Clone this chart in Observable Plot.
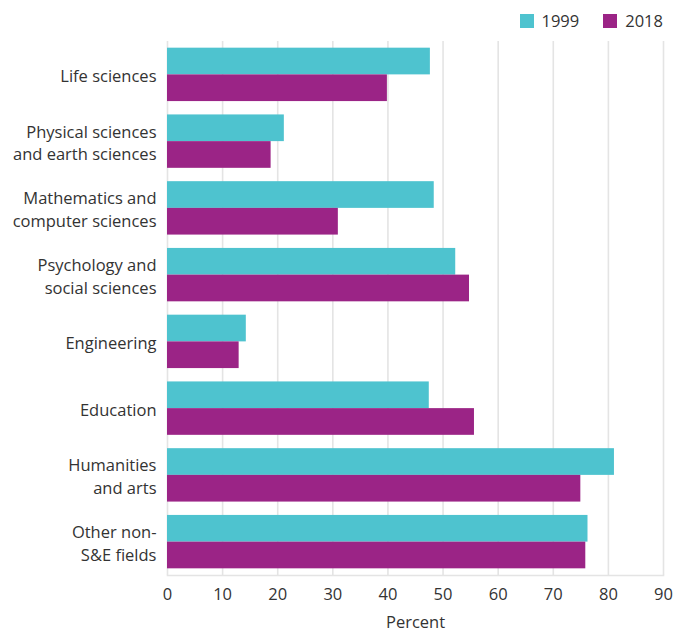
<!DOCTYPE html>
<html>
<head>
<meta charset="utf-8">
<script src="https://cdn.jsdelivr.net/npm/d3@7"></script>
<script src="https://cdn.jsdelivr.net/npm/@observablehq/plot@0.6"></script>
<style>
  html, body { margin: 0; padding: 0; background: #fff; }
  body { width: 676px; height: 634px; overflow: hidden; font-family: "Open Sans", "Noto Sans", sans-serif; color: #333; }
  #legend { height: 41px; display: flex; justify-content: flex-end; align-items: flex-start; padding-right: 13px; box-sizing: border-box; }
  .item { display: flex; align-items: center; margin-left: 24px; margin-top: 12px; font-size: 16.5px; line-height: 18px; }
  .sw { width: 14px; height: 14px; margin-right: 8px; }
  #chart { height: 593px; line-height: 0; }
</style>
</head>
<body>
<div id="legend"></div>
<div id="chart"></div>
<script>
const categories = [
  "Life sciences",
  "Physical sciences\nand earth sciences",
  "Mathematics and\ncomputer sciences",
  "Psychology and\nsocial sciences",
  "Engineering",
  "Education",
  "Humanities\nand arts",
  "Other non-\nS&E fields"
];
const years = ["1999", "2018"];
const values1999 = [47.7, 21.2, 48.4, 52.3, 14.3, 47.5, 81.1, 76.3];
const values2018 = [39.9, 18.8, 31.0, 54.8, 13.0, 55.7, 75.0, 75.9];
const colors = ["#4ec3cf", "#9b2486"];
const xTicks = [0, 10, 20, 30, 40, 50, 60, 70, 80, 90];

const data1999 = categories.map((c, i) => ({category: c, year: years[0], value: values1999[i]}));
const data2018 = categories.map((c, i) => ({category: c, year: years[1], value: values2018[i]}));

// legend
const legend = document.getElementById("legend");
years.forEach((y, i) => {
  const it = document.createElement("div");
  it.className = "item";
  it.innerHTML = `<span class="sw" style="background:${colors[i]}"></span><span>${y}</span>`;
  legend.appendChild(it);
});

const height = 593, marginTop = 0, marginBottom = 59;
const n = categories.length, pI = 0.2, pO = 0.1;
const step = (height - marginTop - marginBottom) / (n - pI + 2 * pO);
const half = step * (1 - pI) / 2;

const chart = Plot.plot({
  width: 676,
  height,
  marginLeft: 167,
  marginRight: 13,
  marginTop,
  marginBottom,
  style: {fontFamily: "'Open Sans', 'Noto Sans', sans-serif", fontSize: "16px", color: "#333"},
  x: {domain: [0, 90], ticks: xTicks},
  y: {domain: categories, paddingInner: pI, paddingOuter: pO, round: false},
  color: {domain: years, range: colors},
  marks: [
    Plot.gridX(xTicks, {stroke: "#e4e4e4", strokeOpacity: 1, strokeWidth: 1.6}),
    Plot.frame({anchor: "bottom", stroke: "#e4e4e4", strokeWidth: 1.6}),
    Plot.barX(data1999, {x: "value", y: "category", fill: "year", insetBottom: half}),
    Plot.barX(data2018, {x: "value", y: "category", fill: "year", insetTop: half}),
    Plot.axisY({tickSize: 0, tickPadding: 11, label: null, lineHeight: 1.38, fontSize: 16.5}),
    Plot.axisX(xTicks, {tickSize: 0, tickPadding: 13, label: null, fontSize: 16.5}),
    Plot.text(["Percent"], {frameAnchor: "bottom", dy: 52, fontSize: 16.5})
  ]
});
document.getElementById("chart").appendChild(chart);
</script>
</body>
</html>
